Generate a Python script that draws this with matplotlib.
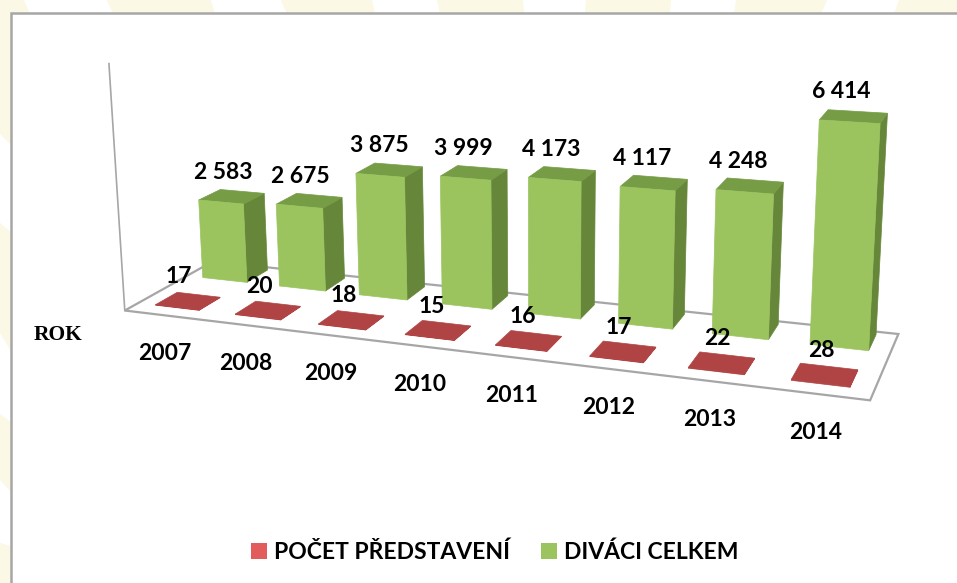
import numpy as np
import matplotlib
matplotlib.use("Agg")
import matplotlib.pyplot as plt
from matplotlib.patches import Patch, Polygon, Rectangle

# Data
years = ["2007", "2008", "2009", "2010", "2011", "2012", "2013", "2014"]
shows = [17, 20, 18, 15, 16, 17, 22, 28]
viewers = [2583, 2675, 3875, 3999, 4173, 4117, 4248, 6414]
viewer_labels = ["2 583", "2 675", "3 875", "3 999", "4 173", "4 117", "4 248", "6 414"]
series_names = ["POČET PŘEDSTAVENÍ", "DIVÁCI CELKEM"]
axis_title = "ROK"

# Style
FONT = "Lato"
FONT_SIZE = 16.5
GRID = "#A6A6A6"
GREEN_FRONT, GREEN_TOP, GREEN_SIDE = "#9BC45F", "#769C46", "#66873A"
RED_TOP = "#B04444"
RED_LEGEND = "#E25C5C"
CREAM = "#FBF8E6"
BAR_WIDTH = 0.58
RED_WIDTH = 0.55
AXIS_MAX = 7600
RED_DEPTH = (0.14, 0.38)
GREEN_DEPTH = (0.69, 0.95)
FLOOR_WEIGHT = 4

# Camera calibration: (category pos, depth, value) -> pixel, fitted below
u0, u1 = (1 - BAR_WIDTH) / 2, (1 + BAR_WIDTH) / 2
g0, g1 = GREEN_DEPTH
FLOOR_ANCHORS = [(0, 0, 0, 124, 309), (8, 0, 0, 870, 400), (8, 1, 0, 898, 334), (0, 1, 0, 213, 261)]
CAMERA_ANCHORS = [
    (0, 0, AXIS_MAX, 108, 72),
    (u0, g0, 2583, 199, 198), (u1, g0, 2583, 244, 202), (u1, g1, 2583, 260, 195),
    (u0, g0, 0, 203, 278), (u1, g0, 0, 247, 283),
    (2 + u0, g0, 3875, 358, 171), (2 + u1, g0, 3875, 406, 175), (2 + u1, g1, 3875, 420, 168),
    (2 + u0, g0, 0, 361, 297), (2 + u1, g0, 0, 408, 300),
    (4 + u0, g0, 4173, 531, 176), (4 + u1, g0, 4173, 582, 179), (4 + u1, g1, 4173, 593, 172),
    (4 + u0, g0, 0, 530, 317), (4 + u1, g0, 0, 581, 321),
    (6 + u0, g0, 4248, 718, 188), (6 + u1, g0, 4248, 774, 193), (6 + u1, g1, 4248, 781, 185),
    (6 + u0, g0, 0, 713, 337), (6 + u1, g0, 0, 768, 342),
    (7 + u0, g0, 6414, 822, 117), (7 + u1, g0, 6414, 880, 121), (7 + u1, g1, 6414, 886, 113),
    (7 + u0, g0, 0, 810, 342), (7 + u1, g0, 0, 867, 353),
]


def fit_camera(anchors):
    rows = []
    for u, v, z, x, y in anchors:
        w = [u, v, z / 1000, 1]
        rows.append(w + [0, 0, 0, 0] + [-x * a for a in w])
        rows.append([0, 0, 0, 0] + w + [-y * a for a in w])
    _, _, vt = np.linalg.svd(np.array(rows, dtype=float))
    return vt[-1].reshape(3, 4)


CAMERA = fit_camera(FLOOR_ANCHORS * FLOOR_WEIGHT + CAMERA_ANCHORS)


def project(u, v, z):
    p = CAMERA @ np.array([u, v, z / 1000, 1])
    return p[0] / p[2], p[1] / p[2]


def draw_box(ax, i, value, width, depth, front, top, side):
    a, b = i + (1 - width) / 2, i + (1 + width) / 2
    d0, d1 = depth
    faces = [
        ([(b, d0, 0), (b, d1, 0), (b, d1, value), (b, d0, value)], side),
        ([(a, d0, value), (b, d0, value), (b, d1, value), (a, d1, value)], top),
        ([(a, d0, 0), (b, d0, 0), (b, d0, value), (a, d0, value)], front),
    ]
    for corners, color in faces:
        pts = [project(*c) for c in corners]
        ax.add_patch(Polygon(pts, closed=True, facecolor=color, edgecolor=color, linewidth=0.5))


fig = plt.figure(figsize=(9.57, 5.83), dpi=100)
ax = fig.add_axes([0, 0, 1, 1])
ax.set_xlim(0, 957)
ax.set_ylim(583, 0)
ax.axis("off")

# Cream background stripes behind the panel
top_stripes = [(0, 24, 30, 0), (107, 211, 215, 113), (281, 372, 375, 287), (437, 523, 524, 440),
               (586, 671, 670, 585), (736, 827, 821, 734), (899, 957, 957, 894)]
for xa, xb, xc, xd in top_stripes:
    ax.add_patch(Polygon([(xa, 0), (xb, 0), (xc, 14), (xd, 14)], facecolor=CREAM, edgecolor="none"))
left_stripes = [(0, 134, 145, 0), (223, 333, 351, 232), (414, 480, 492, 422), (543, 583, 583, 546)]
for ya, yb, yc, yd in left_stripes:
    ax.add_patch(Polygon([(0, ya), (0, yb), (11, yc), (11, yd)], facecolor=CREAM, edgecolor="none"))
ax.add_patch(Rectangle((10.5, 13), 960, 590, facecolor="white", edgecolor=GRID, linewidth=1.8))

# Floor and value axis
floor = [project(0, 0, 0), project(8, 0, 0), project(8, 1, 0), project(0, 1, 0)]
ax.add_patch(Polygon(floor, closed=True, facecolor="white", edgecolor=GRID, linewidth=1.6))
ax.plot(*zip(project(0, 0, 0), project(0, 0, AXIS_MAX)), color=GRID, linewidth=1.2)

# Bars, back row first
for i, value in enumerate(viewers):
    draw_box(ax, i, value, BAR_WIDTH, GREEN_DEPTH, GREEN_FRONT, GREEN_TOP, GREEN_SIDE)
for i, value in enumerate(shows):
    draw_box(ax, i, value, RED_WIDTH, RED_DEPTH, RED_TOP, RED_TOP, RED_TOP)

# Labels
text_kw = dict(family=FONT, fontweight="bold", fontsize=FONT_SIZE, color="black",
               ha="center", va="center")
for i, year in enumerate(years):
    x, y = project(i + 0.5, 0, 0)
    ax.text(x, y + 38.5, year, **text_kw)
for i, value in enumerate(shows):
    x, y = project(i + 0.5, sum(RED_DEPTH) / 2, value)
    ax.text(x - 9 + i * 6 / 7, y - 24, str(value), **text_kw)
for i, value in enumerate(viewers):
    x, y = project(i + 0.5, g0, value)
    ax.text(x + 2 - i * 10 / 7, y - 30, viewer_labels[i], **text_kw)
ax.text(58, 335.5, axis_title, family="Liberation Serif", fontweight="bold", fontsize=15.5,
        ha="center", va="center")

handles = [Patch(facecolor=RED_LEGEND, label=series_names[0]),
           Patch(facecolor=GREEN_FRONT, label=series_names[1])]
ax.legend(handles=handles, ncol=2, loc="center", bbox_to_anchor=(495 / 957, 1 - 552 / 583),
          frameon=False, handlelength=0.7, handleheight=0.7, handletextpad=0.3,
          columnspacing=1.35, prop=dict(family=FONT, weight="bold", size=FONT_SIZE))

fig.savefig("out.png", dpi=100)
